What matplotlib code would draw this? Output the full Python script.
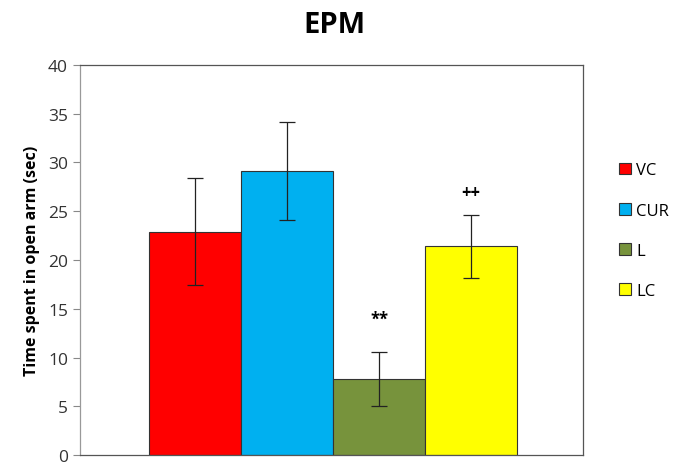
import matplotlib
matplotlib.use('Agg')
import matplotlib.pyplot as plt

groups = ['VC', 'CUR', 'L', 'LC']
means = [22.9, 29.1, 7.8, 21.4]
errors = [5.5, 5.0, 2.8, 3.2]
colors = ['#ff0000', '#00b0f0', '#77933c', '#ffff00']
marks = ['', '', '**', '++']
mark_y = [0, 0, 14.0, 27.0]

plt.rcParams['font.family'] = ['Open Sans', 'DejaVu Sans']

fig = plt.figure(figsize=(6.83, 4.64), dpi=100)
ax = fig.add_axes([0.117, 0.017, 0.737, 0.841])

x = range(len(groups))
ax.bar(x, means, width=1.0, color=colors, edgecolor='#333333', linewidth=0.8,
       yerr=errors, error_kw=dict(ecolor='#222222', elinewidth=0.9, capsize=6, capthick=0.9))

for xi, m, my in zip(x, marks, mark_y):
    if m:
        ax.text(xi, my, m, ha='center', va='center', fontsize=12, fontweight='bold')

ax.set_xlim(-1.25, 4.22)
ax.set_ylim(0, 40)
ax.set_yticks(range(0, 41, 5))
ax.set_xticks([])
ax.tick_params(axis='y', direction='out', length=5, color='#888888', labelsize=12.5, labelcolor='#333333')
for s in ax.spines.values():
    s.set_color('#555555')
    s.set_linewidth(0.9)
ax.spines['left'].set_color('#999999')

ax.set_ylabel('Time spent in open arm (sec)', fontsize=11.5, fontweight='bold', labelpad=6)
fig.text(0.49, 0.945, 'EPM', ha='center', va='center', fontsize=21, fontweight='bold')

handles = [plt.Rectangle((0, 0), 1, 1, facecolor=c, edgecolor='#333333', linewidth=0.8) for c in colors]
fig.legend(handles, groups, loc='upper left', bbox_to_anchor=(0.885, 0.68), frameon=False,
           fontsize=12, handlelength=0.7, handleheight=0.7, handletextpad=0.3, labelspacing=1.45)

fig.savefig('out.png', dpi=100)
